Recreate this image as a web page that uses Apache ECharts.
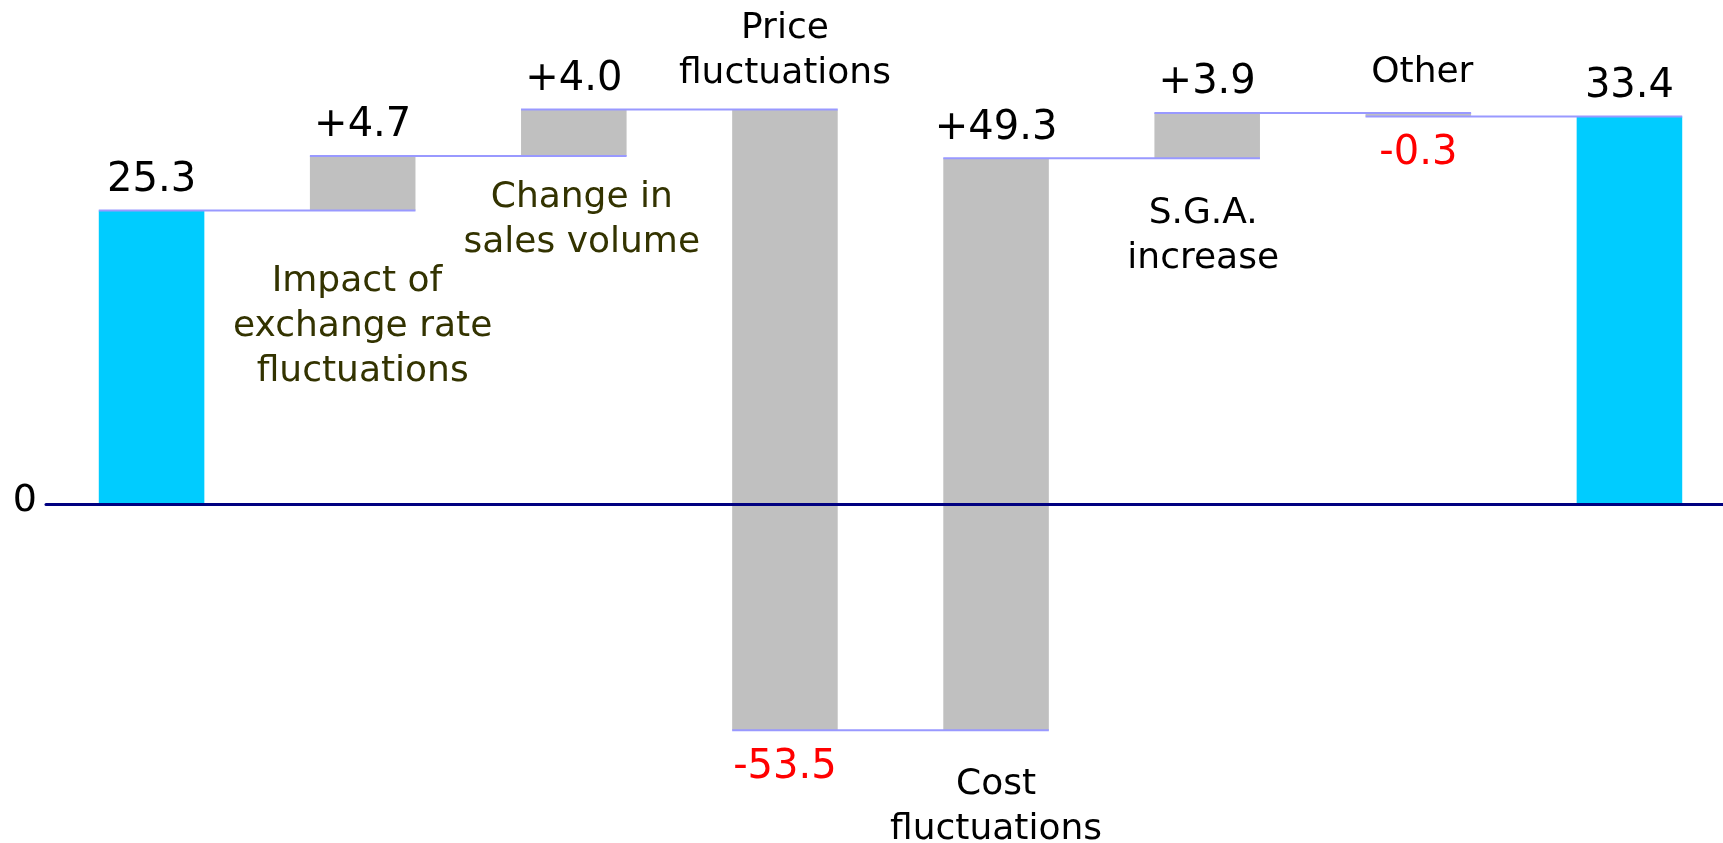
<!DOCTYPE html>
<html>
<head>
<meta charset="utf-8">
<script src="https://cdn.jsdelivr.net/npm/echarts@6/dist/echarts.min.js"></script>
<style>
  html, body { margin: 0; padding: 0; background: #ffffff; overflow: hidden; }
  #chart { width: 1735px; height: 843px; }
</style>
</head>
<body>
<div id="chart"></div>
<script>
// ---- data ----
const categories = ['Start', 'Impact of exchange rate fluctuations', 'Change in sales volume',
  'Price fluctuations', 'Cost fluctuations', 'S.G.A. increase', 'Other', 'End'];
const categoryLabels = ['', 'Impact of \nexchange rate\nfluctuations', 'Change in\nsales volume',
  'Price\nfluctuations', 'Cost\nfluctuations', 'S.G.A.\nincrease', 'Other', ''];
const values = [25.3, 4.7, 4.0, -53.5, 49.3, 3.9, -0.3, 33.4];
const kinds = ['total', 'delta', 'delta', 'delta', 'delta', 'delta', 'delta', 'total'];

// ---- layout / style (not data) ----
const catGap = [0, 49, 19, 13, 32, 33, 18, 0];
const catDx = [0, 0, 8, 0, 0, -4, 4, 0];
const catColor = ['#000000', '#333300', '#333300', '#000000', '#000000', '#000000', '#000000', '#000000'];
const FONT = '"DejaVu Sans", Verdana, sans-serif';

// ---- waterfall ranges ----
const starts = [], ends = [];
let run = 0;
values.forEach((v, i) => {
  if (kinds[i] === 'total') { starts.push(0); ends.push(v); run = v; }
  else { starts.push(run); run = Math.round((run + v) * 10) / 10; ends.push(run); }
});
const valueLabels = values.map((v, i) =>
  (kinds[i] === 'delta' && v > 0 ? '+' : '') + v.toFixed(1));

const chart = echarts.init(document.getElementById('chart'), null, { renderer: 'canvas' });

function renderItem(params, api) {
  const i = api.value(0);
  const s = api.value(1), e = api.value(2);
  const band = api.size([1, 0])[0];
  const bw = band * 0.5;
  const pS = api.coord([i, s]);
  const pE = api.coord([i, e]);
  const cx = pS[0];
  const yTop = Math.min(pS[1], pE[1]);
  const yBot = Math.max(pS[1], pE[1]);
  const children = [];
  children.push({
    type: 'rect',
    shape: { x: cx - bw / 2, y: yTop, width: bw, height: Math.max(yBot - yTop, 1) },
    style: { fill: kinds[i] === 'total' ? '#00CCFF' : '#C0C0C0' }
  });
  // connector to next bar
  if (i < values.length - 1) {
    const pN = api.coord([i + 1, e]);
    children.push({
      type: 'line',
      shape: { x1: cx - bw / 2, y1: pE[1], x2: pN[0] + bw / 2, y2: pE[1] },
      style: { stroke: '#9999FF', lineWidth: 2 },
      z2: 5
    });
  }
  const v = values[i];
  const valueAbove = v >= 0;
  children.push({
    type: 'text',
    x: cx,
    y: valueAbove ? yTop - 30 : yBot + 37,
    style: {
      text: valueLabels[i],
      fill: v < 0 ? '#FF0000' : '#000000',
      fontSize: 40, fontFamily: FONT,
      align: 'center', verticalAlign: 'middle', lineHeight: 40
    },
    z2: 10
  });
  if (categoryLabels[i]) {
    children.push({
      type: 'text',
      x: cx + catDx[i],
      y: valueAbove ? yBot + catGap[i] : yTop - catGap[i],
      style: {
        text: categoryLabels[i],
        fill: catColor[i],
        fontSize: 36, fontFamily: FONT,
        align: 'center', verticalAlign: valueAbove ? 'top' : 'bottom', lineHeight: 45
      },
      z2: 10
    });
  }
  return { type: 'group', children: children };
}

chart.setOption({
  animation: false,
  backgroundColor: '#ffffff',
  grid: { left: 46, right: 0, top: 40, bottom: 49, containLabel: false },
  xAxis: {
    type: 'category',
    data: categories,
    z: 10,
    axisLine: { onZero: true, lineStyle: { color: '#000080', width: 3 } },
    axisTick: { show: false },
    axisLabel: { show: false },
    splitLine: { show: false }
  },
  yAxis: {
    type: 'value',
    min: -25, max: 40, interval: 5,
    axisLine: { show: false },
    axisTick: { show: false },
    splitLine: { show: false },
    axisLabel: {
      formatter: v => (v === 0 ? '0' : ''),
      fontSize: 38, fontFamily: FONT, color: '#000000',
      margin: 9, verticalAlign: 'bottom', lineHeight: 6
    }
  },
  series: [{
    type: 'custom',
    renderItem: renderItem,
    clip: false,
    encode: { x: 0, y: [1, 2] },
    data: values.map((v, i) => [i, starts[i], ends[i]])
  }]
});
</script>
</body>
</html>
